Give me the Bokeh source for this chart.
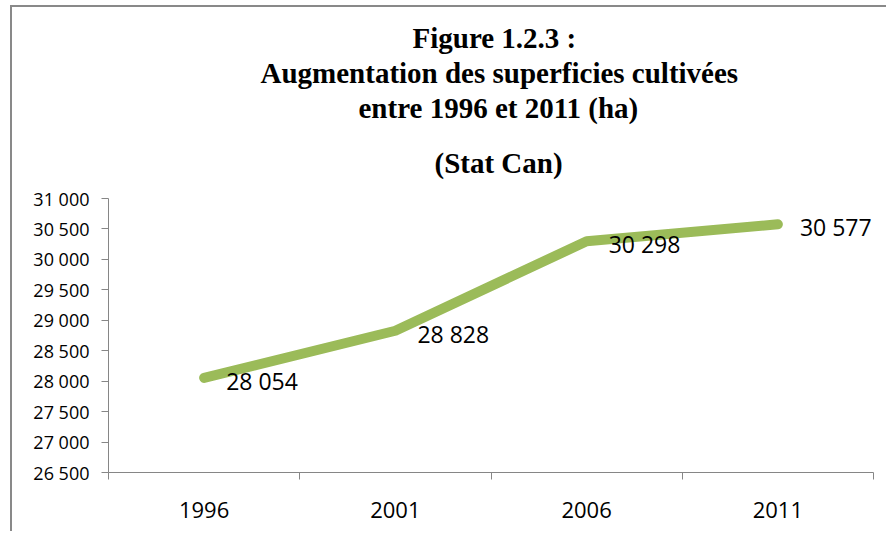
from bokeh.plotting import figure
from bokeh.models import FixedTicker, Range1d, Title, ColumnDataSource
from bokeh.embed import file_html
from bokeh.resources import INLINE
from bokeh.core.properties import value

years = ["1996", "2001", "2006", "2011"]
superficies = [28054, 28828, 30298, 30577]
y_ticks = [26500, 27000, 27500, 28000, 28500, 29000, 29500, 30000, 30500, 31000]
title_lines = ["Figure 1.2.3 :", "Augmentation des superficies cultivées",
               "entre 1996 et 2011 (ha)", "(Stat Can)"]
# left offsets of title lines (px from frame left), so that they centre near x=497
title_left = [304, 152, 250, 326]
title_standoff = [1, 1, 1, 40]


def fmt(v):
    return f"{v:,}".replace(",", " ")


xs = [i + 0.5 for i in range(len(years))]
src = ColumnDataSource(dict(x=xs, y=superficies, lab=[fmt(v) for v in superficies]))

W, H = 876, 526
p = figure(width=W, height=H, output_backend="svg", toolbar_location=None,
           x_range=Range1d(0, len(years)), y_range=Range1d(y_ticks[0], y_ticks[-1]),
           min_border_left=96, min_border_right=15, min_border_top=191, min_border_bottom=61)
p.styles = {"border-top": "2px solid #898989", "border-left": "2px solid #898989",
            "margin-left": "10px", "margin-top": "5px"}
p.outline_line_color = None
p.grid.visible = False
p.background_fill_color = "white"
p.border_fill_color = "white"

for line, off, so in reversed(list(zip(title_lines, title_left, title_standoff))):
    p.add_layout(Title(text=line, align="left", offset=off, text_font="Liberation Serif",
                       text_font_style="bold", text_font_size="29px",
                       text_color="black", standoff=so), "above")

ax = p.xaxis[0]
ax.ticker = FixedTicker(ticks=xs, minor_ticks=list(range(len(years) + 1)))
ax.major_label_overrides = {x: y for x, y in zip(xs, years)}
ax.major_tick_line_color = None
ax.major_tick_out = 0
ax.major_tick_in = 0
ax.minor_tick_line_color = "#868686"
ax.minor_tick_out = 7
ax.minor_tick_in = 0
ax.axis_line_color = "#868686"
ax.major_label_text_font = "Open Sans"
ax.major_label_text_font_size = "22px"
ax.major_label_text_color = "black"
ax.major_label_standoff = 22

ay = p.yaxis[0]
ay.ticker = FixedTicker(ticks=y_ticks, minor_ticks=[])
ay.major_label_overrides = {t: fmt(t) for t in y_ticks}
ay.major_tick_line_color = "#868686"
ay.major_tick_out = 7
ay.major_tick_in = 0
ay.minor_tick_line_color = None
ay.axis_line_color = "#868686"
ay.major_label_text_font = "Open Sans"
ay.major_label_text_font_size = "18px"
ay.major_label_text_color = "black"
ay.major_label_standoff = 12

p.line("x", "y", source=src, line_color="#9BBB59", line_width=10,
       line_cap="round", line_join="round")
p.text("x", "y", text="lab", source=src, x_offset=22, y_offset=3,
       text_baseline="middle", text_align="left",
       text_font=value("Open Sans"), text_font_size="23px", text_color="black")

open("out.html", "w").write(file_html(p, INLINE))
